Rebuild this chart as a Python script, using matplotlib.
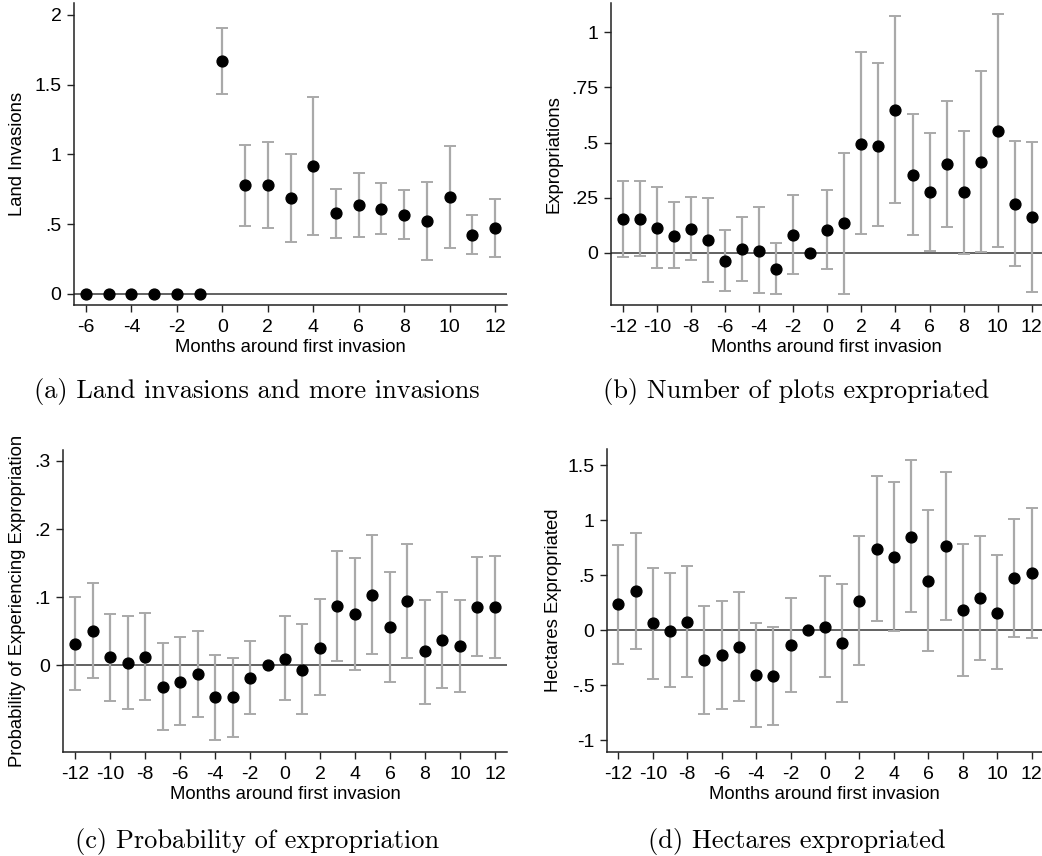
import numpy as np
import matplotlib
matplotlib.use("Agg")
import matplotlib.pyplot as plt

# ---------------- data ----------------
months_a = [-6, -5, -4, -3, -2, -1, 0, 1, 2, 3, 4, 5, 6, 7, 8, 9, 10, 11, 12]
invasions = [0, 0, 0, 0, 0, 0, 1.673, 0.779, 0.784, 0.686, 0.915, 0.578, 0.636,
             0.607, 0.569, 0.521, 0.693, 0.425, 0.473]
invasions_hi = [None, None, None, None, None, None, 1.909, 1.066, 1.092, 1.006, 1.412,
                0.753, 0.865, 0.793, 0.748, 0.800, 1.061, 0.569, 0.681]
invasions_lo = [None, None, None, None, None, None, 1.436, 0.490, 0.471, 0.370, 0.421,
                0.404, 0.409, 0.428, 0.392, 0.246, 0.327, 0.287, 0.268]

months = list(range(-12, 13))
expro = [0.153, 0.153, 0.115, 0.079, 0.109, 0.059, -0.036, 0.017, 0.011, -0.071, 0.080, 0,
         0.104, 0.135, 0.496, 0.487, 0.648, 0.354, 0.275, 0.402, 0.274, 0.412, 0.555, 0.224, 0.165]
expro_hi = [0.328, 0.324, 0.301, 0.231, 0.253, 0.251, 0.103, 0.162, 0.206, 0.044, 0.262, None,
            0.284, 0.455, 0.909, 0.859, 1.074, 0.631, 0.545, 0.691, 0.554, 0.823, 1.083, 0.508, 0.505]
expro_lo = [-0.017, -0.015, -0.070, -0.070, -0.033, -0.132, -0.171, -0.126, -0.183, -0.185, -0.097, None,
            -0.073, -0.186, 0.086, 0.120, 0.225, 0.080, 0.011, 0.118, -0.003, 0.003, 0.027, -0.059, -0.175]

prob = [0.032, 0.051, 0.012, 0.003, 0.013, -0.031, -0.024, -0.013, -0.047, -0.047, -0.018, 0,
        0.010, -0.006, 0.026, 0.087, 0.075, 0.104, 0.056, 0.094, 0.021, 0.037, 0.028, 0.086, 0.085]
prob_hi = [0.101, 0.121, 0.076, 0.072, 0.077, 0.033, 0.041, 0.051, 0.016, 0.011, 0.036, None,
           0.072, 0.061, 0.097, 0.168, 0.158, 0.191, 0.137, 0.178, 0.096, 0.107, 0.096, 0.159, 0.160]
prob_lo = [-0.036, -0.018, -0.052, -0.064, -0.051, -0.094, -0.088, -0.075, -0.109, -0.105, -0.071, None,
           -0.050, -0.071, -0.044, 0.007, -0.006, 0.017, -0.024, 0.011, -0.056, -0.033, -0.039, 0.014, 0.011]

hect = [0.234, 0.352, 0.061, -0.006, 0.073, -0.273, -0.228, -0.152, -0.413, -0.416, -0.137, 0,
        0.030, -0.118, 0.267, 0.741, 0.668, 0.848, 0.443, 0.765, 0.182, 0.292, 0.158, 0.471, 0.519]
hect_hi = [0.778, 0.881, 0.565, 0.516, 0.583, 0.219, 0.261, 0.346, 0.061, 0.027, 0.292, None,
           0.492, 0.416, 0.860, 1.403, 1.346, 1.543, 1.091, 1.437, 0.787, 0.860, 0.680, 1.008, 1.112]
hect_lo = [-0.313, -0.173, -0.447, -0.519, -0.431, -0.762, -0.714, -0.641, -0.881, -0.860, -0.559, None,
           -0.425, -0.650, -0.322, 0.082, -0.006, 0.161, -0.194, 0.094, -0.419, -0.270, -0.358, -0.061, -0.073]

xt_a = [-6, -4, -2, 0, 2, 4, 6, 8, 10, 12]
xt_b = [-12, -10, -8, -6, -4, -2, 0, 2, 4, 6, 8, 10, 12]
yt_a = [0, 0.5, 1, 1.5, 2]; ytl_a = ["0", ".5", "1", "1.5", "2"]
yt_b = [0, 0.25, 0.5, 0.75, 1]; ytl_b = ["0", ".25", ".5", ".75", "1"]
yt_c = [0, 0.1, 0.2, 0.3]; ytl_c = ["0", ".1", ".2", ".3"]
yt_d = [-1, -0.5, 0, 0.5, 1, 1.5]; ytl_d = ["-1", "-.5", "0", ".5", "1", "1.5"]

xlabel = "Months around first invasion"
ylabels = ["Land Invasions", "Expropriations",
           "Probability of Experiencing Expropriation", "Hectares Expropriated"]
captions = ["(a) Land invasions and more invasions", "(b) Number of plots expropriated",
            "(c) Probability of expropriation", "(d) Hectares expropriated"]

# ---------------- figure ----------------
W, H = 1042, 856
plt.rcParams['font.family'] = ['Liberation Sans', 'DejaVu Sans']
fig = plt.figure(figsize=(W / 100, H / 100), dpi=100)

def make_ax(l, r, t, b):
    return fig.add_axes([l / W, 1 - b / H, (r - l) / W, (b - t) / H])

ERR_C = '#a9a9a9'

def panel(ax, x, y, lo, hi, xlim, ylim, xt, yt, ytl, ylab, ylab_px, l_px, w_px):
    ax.axhline(0, color='#555555', lw=1.3, zorder=1)
    xs = [xi for xi, a in zip(x, lo) if a is not None]
    ys = [yi for yi, a in zip(y, lo) if a is not None]
    los = [a for a in lo if a is not None]
    his = [b for b in hi if b is not None]
    yerr = np.array([np.array(ys) - np.array(los), np.array(his) - np.array(ys)])
    ax.errorbar(xs, ys, yerr=yerr, fmt='none', ecolor=ERR_C, elinewidth=1.6,
                capsize=4, capthick=1.4, zorder=2)
    ax.plot(x, y, 'o', color='black', ms=7.8, zorder=3, clip_on=False)
    ax.set_xlim(*xlim)
    ax.set_ylim(*ylim)
    ax.set_xticks(xt)
    ax.set_xticklabels([str(v) for v in xt])
    ax.set_yticks(yt)
    ax.set_yticklabels(ytl)
    for s in ['top', 'right']:
        ax.spines[s].set_visible(False)
    for s in ['left', 'bottom']:
        ax.spines[s].set_linewidth(1.1)
        ax.spines[s].set_color('#222222')
    ax.tick_params(direction='out', length=5, width=1.0, labelsize=14, pad=4, color='#222222')
    ax.tick_params(axis='x', pad=5)
    ax.set_xlabel(xlabel, fontsize=13.3, labelpad=2)
    ax.set_ylabel(ylab, fontsize=13.3)
    ax.yaxis.set_label_coords((ylab_px - l_px) / w_px, 0.5)

axa = make_ax(74, 507, 3, 305)
panel(axa, months_a, invasions, invasions_lo, invasions_hi, (-6.53, 12.53), (-0.079, 2.086),
      xt_a, yt_a, ytl_a, ylabels[0], 26, 74, 433)

axb = make_ax(611, 1042, 3, 305)
panel(axb, months, expro, expro_lo, expro_hi, (-12.7, 12.6), (-0.236, 1.133),
      xt_b, yt_b, ytl_b, ylabels[1], 563, 611, 431)

axc = make_ax(63, 507, 450, 752)
panel(axc, months, prob, prob_lo, prob_hi, (-12.69, 12.69), (-0.127, 0.316),
      xt_b, yt_c, ytl_c, ylabels[2], 26, 63, 444)

axd = make_ax(607, 1042, 449, 752)
panel(axd, months, hect, hect_lo, hect_hi, (-12.66, 12.6), (-1.109, 1.647),
      xt_b, yt_d, ytl_d, ylabels[3], 562, 607, 435)

cap_pos = [(257, 398), (796, 398), (257, 848), (797, 848)]
for (cx, cy), txt in zip(cap_pos, captions):
    fig.text(cx / W, 1 - cy / H, txt, ha='center', va='baseline', fontsize=19,
             family=['cmr10', 'DejaVu Serif'])

fig.savefig("out.png", dpi=100)
